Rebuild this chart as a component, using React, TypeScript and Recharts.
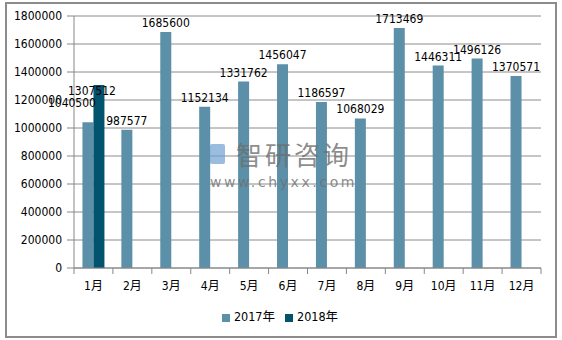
import { BarChart, Bar, XAxis, YAxis, CartesianGrid, Legend, LabelList } from 'recharts';

const months = ['1月', '2月', '3月', '4月', '5月', '6月', '7月', '8月', '9月', '10月', '11月', '12月'];
const y2017 = [1040500, 987577, 1685600, 1152134, 1331762, 1456047, 1186597, 1068029, 1713469, 1446311, 1496126, 1370571];
const y2018 = [1307512, null, null, null, null, null, null, null, null, null, null, null];
const yTicks = [0, 200000, 400000, 600000, 800000, 1000000, 1200000, 1400000, 1600000, 1800000];

const chartData = months.map((m, i) => ({ name: m, a: y2017[i], b: y2018[i] }));

const FONT = "'DejaVu Sans Condensed', 'DejaVu Sans', 'Noto Sans CJK SC', sans-serif";
const W = 562;
const H = 340;
const PLOT_L = 74;
const PLOT_R = 21;
const TICK = 6;
const TICK_GAP = 7;

// the first month's labels were moved by hand in the original chart
const firstShift: Record<string, [number, number]> = { a: [-16, 10], b: [-7, -15] };

const MonthTick = (props: any) => {
  const { x, y, payload, index } = props;
  const bw = (W - PLOT_L - PLOT_R) / months.length;
  const axisY = y - TICK - TICK_GAP;
  return (
    <g>
      <line x1={x - bw / 2} x2={x - bw / 2} y1={axisY} y2={axisY + TICK} stroke="#888" />
      {index === months.length - 1 && (
        <line x1={x + bw / 2} x2={x + bw / 2} y1={axisY} y2={axisY + TICK} stroke="#888" />
      )}
      <text x={x} y={y} dy="0.71em" textAnchor="middle" fontSize={12} fill="#000" fontFamily={FONT}>
        {payload.value}
      </text>
    </g>
  );
};

const barLabel = (key: string) => (props: any) => {
  const { x, y, width, value, index } = props;
  if (value == null) return null;
  const [dx, up] = index === 0 ? firstShift[key] : [0, 0];
  return (
    <text x={x + width / 2 + dx} y={y - 5 - up} textAnchor="middle" fontSize={12} fill="#000" fontFamily={FONT}>
      {value}
    </text>
  );
};

export default function App() {
  return (
    <div style={{ position: 'absolute', left: 0, top: 0, width: W, height: H, background: '#fff' }}>
      <div
        style={{
          position: 'absolute',
          left: 5,
          top: 2,
          width: 548,
          height: 332,
          border: '2px solid #8c8c8c',
        }}
      />
      <BarChart
        width={W}
        height={H}
        data={chartData}
        margin={{ top: 16, right: PLOT_R, left: 0, bottom: 42 }}
        barCategoryGap="21.7%"
        barGap={0}
        style={{ fontFamily: FONT }}
      >
        <CartesianGrid vertical={false} stroke="#8c8c8c" />
        <XAxis
          dataKey="name"
          height={30}
          stroke="#888"
          tickLine={false}
          tickSize={TICK}
          tickMargin={TICK_GAP}
          tick={<MonthTick />}
          interval={0}
        />
        <YAxis
          width={PLOT_L}
          domain={[0, 1800000]}
          ticks={yTicks}
          interval={0}
          stroke="#888"
          tickSize={7}
          tickMargin={5}
          tick={{ fill: '#000', fontSize: 12, fontFamily: FONT }}
        />
        <Legend
          verticalAlign="middle"
          align="center"
          iconType="square"
          iconSize={8}
          wrapperStyle={{ top: 306, left: 4, width: W, fontSize: 12.5, fontFamily: FONT }}
          formatter={(v: string) => <span style={{ color: '#000' }}>{v}</span>}
        />
        <Bar dataKey="a" name="2017年" fill="#5b90a8" isAnimationActive={false}>
          <LabelList dataKey="a" content={barLabel('a')} />
        </Bar>
        <Bar dataKey="b" name="2018年" fill="#02536e" isAnimationActive={false}>
          <LabelList dataKey="b" content={barLabel('b')} />
        </Bar>
      </BarChart>
      <div
        style={{
          position: 'absolute',
          left: 210,
          top: 140,
          pointerEvents: 'none',
          color: 'rgba(110,110,110,0.8)',
          fontFamily: "'Noto Sans CJK SC', sans-serif",
        }}
      >
        <div style={{ display: 'flex', alignItems: 'center', height: 28 }}>
          <div style={{ width: 15, height: 20, background: 'rgba(110,160,210,0.7)', borderRadius: 2, marginRight: 11 }} />
          <span style={{ fontSize: 26, letterSpacing: 3, lineHeight: '28px' }}>智研咨询</span>
        </div>
        <div style={{ fontSize: 14, letterSpacing: 2.6, lineHeight: '16px', marginTop: 6, fontFamily: "'DejaVu Sans', sans-serif" }}>
          www.chyxx.com
        </div>
      </div>
    </div>
  );
}
